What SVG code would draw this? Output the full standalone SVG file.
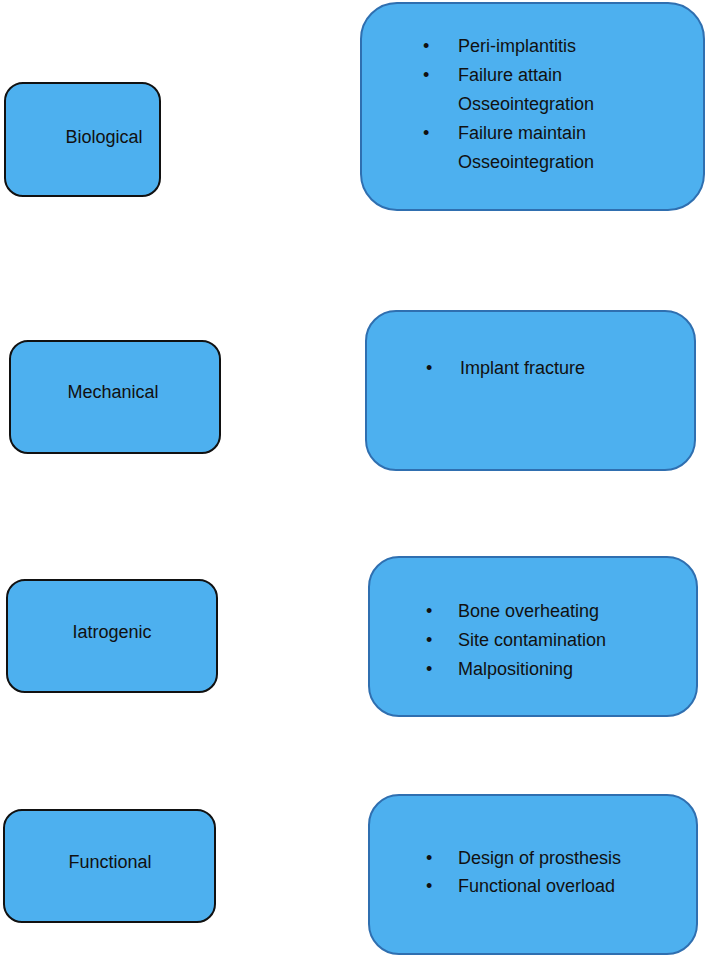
<svg xmlns="http://www.w3.org/2000/svg" width="709" height="960" viewBox="0 0 709 960">
<style>
.l{fill:#4db0ef;stroke:#111;stroke-width:2}
.r{fill:#4db0ef;stroke:#2f6fb0;stroke-width:2}
text{font-family:"Liberation Sans",Arial,sans-serif;font-size:18px;fill:#111}
.c{text-anchor:middle}
</style>
<rect width="709" height="960" fill="#fff"/>
<g id="biological"><rect class="l" x="5" y="83" width="155" height="113" rx="18"/><text class="c" x="104" y="143">Biological</text></g>
<g id="mechanical"><rect class="l" x="10" y="341" width="210" height="112" rx="18"/><text class="c" x="113" y="398">Mechanical</text></g>
<g id="iatrogenic"><rect class="l" x="7" y="580" width="210" height="112" rx="18"/><text class="c" x="112" y="638">Iatrogenic</text></g>
<g id="functional"><rect class="l" x="4" y="810" width="211" height="112" rx="18"/><text class="c" x="110" y="868">Functional</text></g>
<g id="biological-list"><rect class="r" x="361" y="3" width="343" height="207" rx="36"/>
<text x="423" y="52">•</text><text x="458" y="52">Peri-implantitis</text>
<text x="423" y="81">•</text><text x="458" y="81">Failure attain</text>
<text x="458" y="110">Osseointegration</text>
<text x="423" y="139">•</text><text x="458" y="139">Failure maintain</text>
<text x="458" y="168">Osseointegration</text></g>
<g id="mechanical-list"><rect class="r" x="366" y="311" width="329" height="159" rx="30"/>
<text x="426" y="374">•</text><text x="460" y="374">Implant fracture</text></g>
<g id="iatrogenic-list"><rect class="r" x="369" y="557" width="328" height="159" rx="30"/>
<text x="426" y="617">•</text><text x="458" y="617">Bone overheating</text>
<text x="426" y="646">•</text><text x="458" y="646">Site contamination</text>
<text x="426" y="675">•</text><text x="458" y="675">Malpositioning</text></g>
<g id="functional-list"><rect class="r" x="369" y="795" width="328" height="159" rx="30"/>
<text x="426" y="864">•</text><text x="458" y="864">Design of prosthesis</text>
<text x="426" y="892">•</text><text x="458" y="892">Functional overload</text></g>
<g id="connectors"/>
</svg>
